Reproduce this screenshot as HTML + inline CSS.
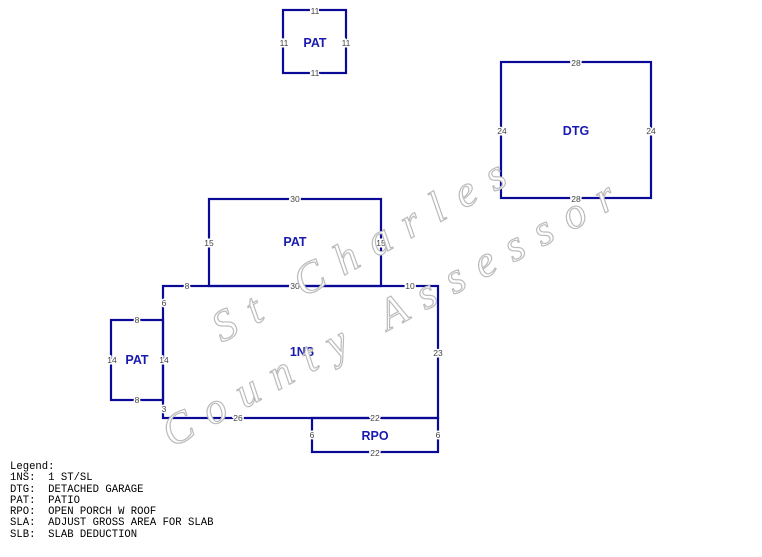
<!DOCTYPE html>
<html><head><style>
body{margin:0;background:#fff;width:762px;height:557px;overflow:hidden;position:relative}
svg{position:absolute;left:0;top:0}
.lg{position:absolute;left:10px;top:462px;font-family:"Liberation Mono",monospace;font-size:10.6px;line-height:11.3px;white-space:pre;color:#000}
</style></head><body>
<svg width="762" height="557" xmlns="http://www.w3.org/2000/svg">
<g fill="none" stroke="#0a0a96" stroke-width="2.2">
<rect x="283" y="10" width="63" height="63"/>
<rect x="501" y="62" width="150" height="136"/>
<rect x="209" y="199" width="172" height="87"/>
<rect x="163" y="286" width="275" height="132"/>
<rect x="111" y="320" width="52" height="80"/>
<rect x="312" y="418" width="126" height="34"/>
</g>
<g font-family="Liberation Sans,sans-serif" font-size="12.5" font-weight="bold" fill="#1a1ab0" text-anchor="middle">
<text x="315" y="47">PAT</text>
<text x="576" y="135">DTG</text>
<text x="295" y="246">PAT</text>
<text x="302" y="356">1NS</text>
<text x="137" y="364">PAT</text>
<text x="375" y="440">RPO</text>
</g>
<g font-family="Liberation Sans,sans-serif" font-size="8.5" fill="#444" text-anchor="middle" paint-order="stroke" stroke="#fff" stroke-width="3">
<text x="315" y="14">11</text><text x="315" y="76">11</text><text x="284" y="46">11</text><text x="346" y="46">11</text>
<text x="576" y="66">28</text><text x="576" y="202">28</text><text x="502" y="134">24</text><text x="651" y="134">24</text>
<text x="295" y="202">30</text><text x="209" y="246">15</text><text x="381" y="246">15</text>
<text x="187" y="289">8</text><text x="295" y="289">30</text><text x="410" y="289">10</text>
<text x="164" y="306">6</text><text x="164" y="363">14</text><text x="164" y="412">3</text>
<text x="438" y="356">23</text><text x="238" y="421">26</text><text x="375" y="421">22</text>
<text x="137" y="323">8</text><text x="137" y="403">8</text><text x="112" y="363">14</text>
<text x="312" y="438">6</text><text x="438" y="438">6</text><text x="375" y="456">22</text>
</g>
<g font-family="Liberation Serif,serif" font-style="italic" font-size="44" fill="#fff" stroke="#bbb" stroke-width="1.2">
<text transform="translate(222,343) rotate(-29)" letter-spacing="16">St Charles</text>
<text transform="translate(172,448) rotate(-28.5)" letter-spacing="15.5">County Assessor</text>
</g>
</svg>
<div class="lg">Legend:
1NS:  1 ST/SL
DTG:  DETACHED GARAGE
PAT:  PATIO
RPO:  OPEN PORCH W ROOF
SLA:  ADJUST GROSS AREA FOR SLAB
SLB:  SLAB DEDUCTION</div>
</body></html>
